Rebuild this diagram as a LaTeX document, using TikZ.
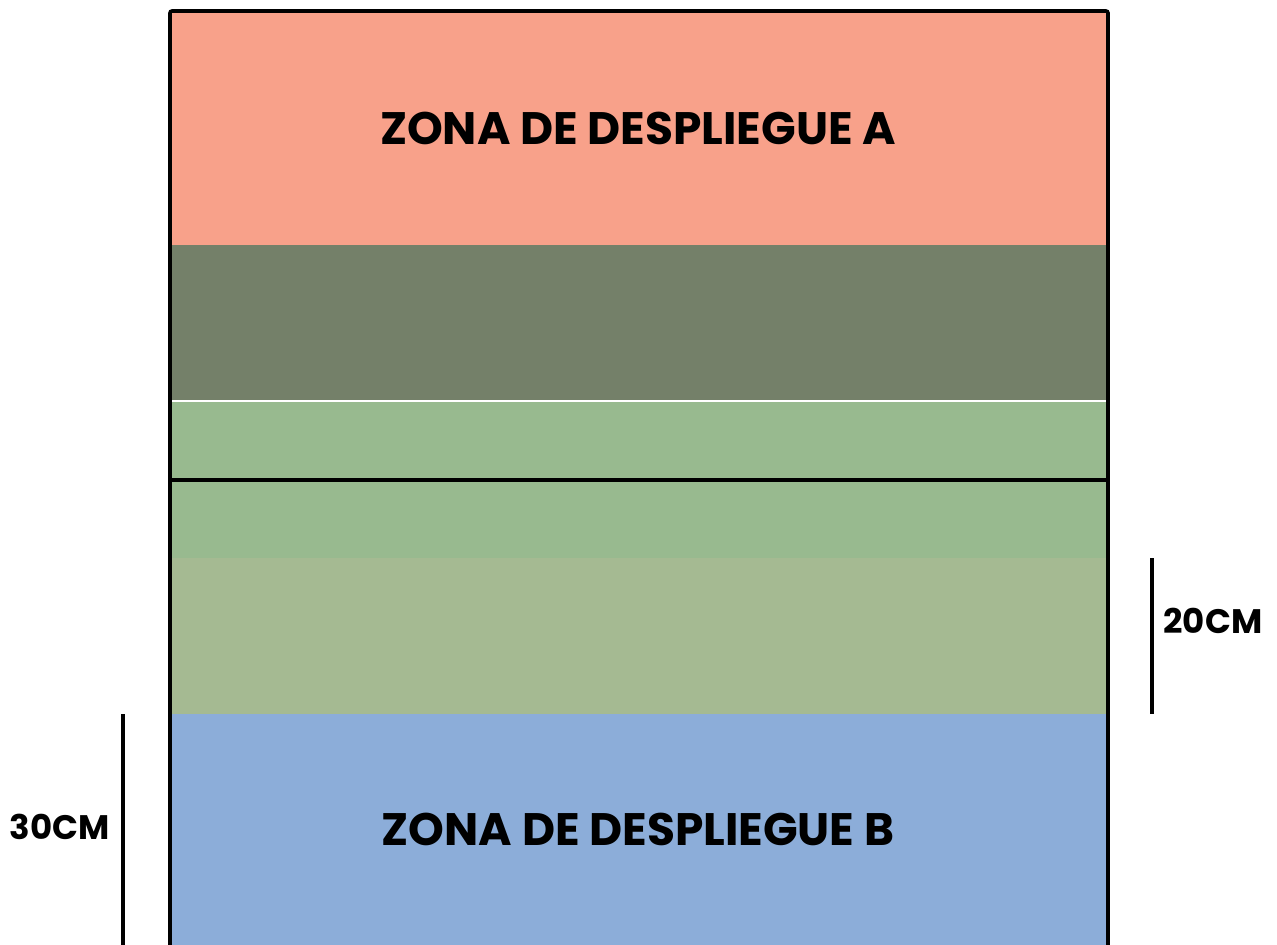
\documentclass[tikz,border=0pt]{standalone}
\usepackage{fontspec}
\setmainfont{Poppins}
\usetikzlibrary{positioning}
\definecolor{zonaA}{HTML}{F8A18A}
\definecolor{franjaOscura}{HTML}{748069}
\definecolor{franjaVerde}{HTML}{98BA8F}
\definecolor{franjaSalvia}{HTML}{A5BA92}
\definecolor{zonaB}{HTML}{8CADD9}
\begin{document}
\begin{tikzpicture}[x=1pt,y=-1pt]
\tikzstyle{zona}=[font=\fontsize{45.5}{46}\selectfont\bfseries]
\tikzstyle{medida}=[font=\fontsize{34}{34}\selectfont\bfseries]
\tikzstyle{cota}=[line width=3.2pt]

  \useasboundingbox (0,0) rectangle (1277,945);
  \clip (0,0) rectangle (1277,945);

  %--- bands ---
  \fill[zonaA] (170,11) rectangle (1108,245);
  \fill[franjaOscura] (170,245) rectangle (1108,401);
  \fill[franjaVerde] (170,401) rectangle (1108,558);
  \fill[franjaSalvia] (170,558) rectangle (1108,714);
  \fill[zonaB] (170,714) rectangle (1108,960);
  \draw[white, line width=2.5pt] (170,401) -- (1108,401);
  \draw[black, line width=3.2pt] (170,480) -- (1108,480);
  \draw[black, line width=3.6pt, rounded corners=2pt] (170,960) -- (170,11) -- (1108,11) -- (1108,960);

  %--- nodes ---
  \node[zona] (A) at (638,128) {ZONA DE DESPLIEGUE A};
  \node[zona] (B) at (638,829) {ZONA DE DESPLIEGUE B};

  \coordinate (d1) at (1152,558);
  \coordinate (d2) at (1152,714);
  \coordinate (i1) at (123,714);
  \coordinate (i2) at (123,945);
  \node[medida, anchor=west] (m20) at (1160,621) {20CM};
  \node[medida, anchor=east] (m30) at (113,827) {30CM};

  %--- dimension lines ---
  \draw[cota] (d1) -- (d2);
  \draw[cota] (i1) -- (i2);
\end{tikzpicture}
\end{document}
